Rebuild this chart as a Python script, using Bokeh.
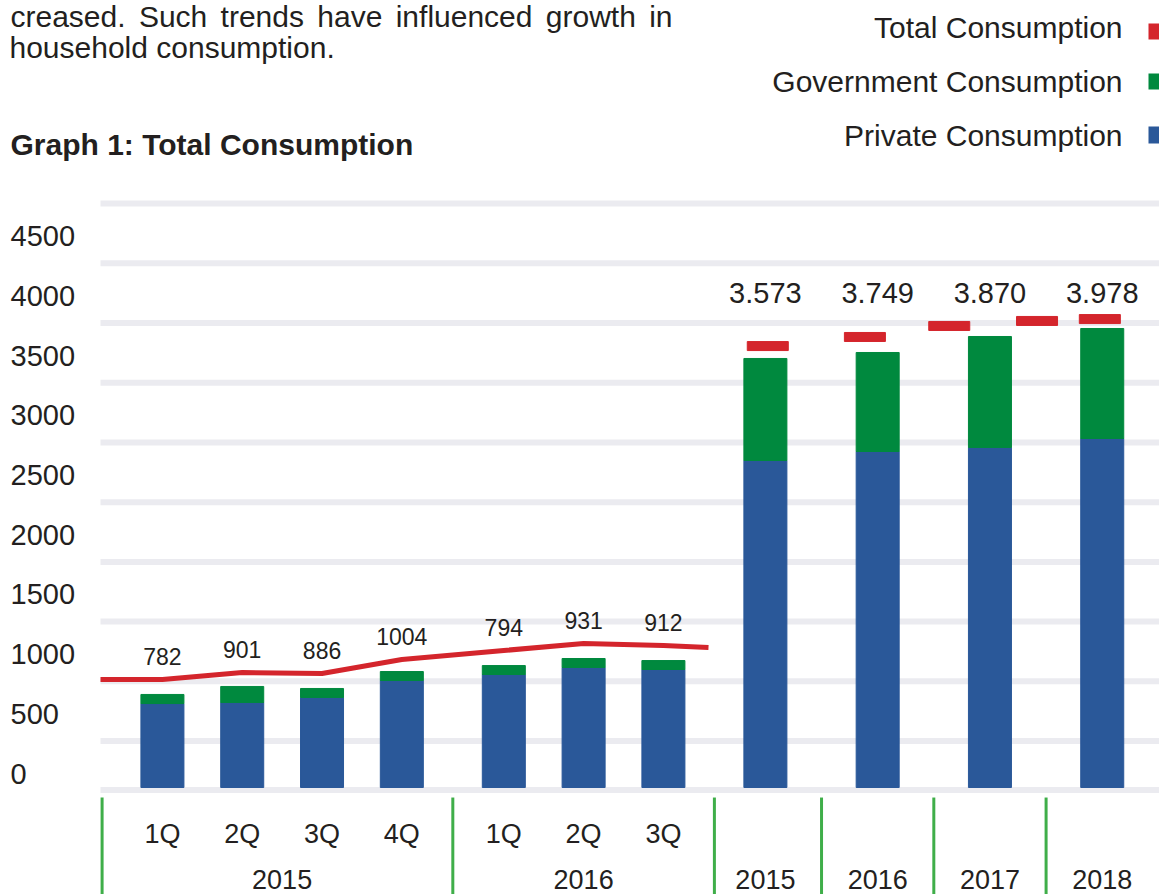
from bokeh.plotting import figure
from bokeh.models import Range1d, Label, Grid, BoxAnnotation
from bokeh.core.properties import value
from bokeh.embed import file_html
from bokeh.resources import INLINE

# ---------------- data ----------------
quarter_groups = ["2015", "2016"]
quarter_names = [["1Q", "2Q", "3Q", "4Q"], ["1Q", "2Q", "3Q"]]
years = ["2015", "2016", "2017", "2018"]

private_q = [703, 712, 754, 896, 946, 1005, 988]
government_q = [76, 134, 75, 75, 75, 75, 75]
total_q = [904, 963, 954, 1072, 1147, 1206, 1189]      # red line at each quarter
total_q_edges = [904, 1172]                            # red line at its two ends
total_q_labels = ["782", "901", "886", "1004", "794", "931", "912"]

private_a = [2738, 2813, 2847, 2922]
government_a = [854, 829, 929, 921]
total_a_labels = ["3.573", "3.749", "3.870", "3.978"]
total_a_marks = [3696, 3772, 3864, 3906, 3922]
total_a_mark_year = [0, 1, 2, 2, 3]
total_a_mark_shift = [0.03, -0.16, -0.51, 0.59, -0.03]

y_tick_values = [0, 500, 1000, 1500, 2000, 2500, 3000, 3500, 4000, 4500]
legend_names = ["Total Consumption", "Government Consumption", "Private Consumption"]

para_line1 = "creased. Such trends have influenced growth in"
para_line2 = "household consumption."
title_text = "Graph 1: Total Consumption"

# ---------------- style / layout ----------------
BLUE = "#2a5899"
GREEN = "#00893e"
RED = "#d4252c"
SEP_GREEN = "#3fae49"
GRID = "#ebebf0"
INK = "#231f20"
FONT_NAME = "Liberation Sans"
FONT = value(FONT_NAME)

W, H = 1159, 894
PX_X = 79.8          # pixels per x unit
PX_Y = 0.11944       # pixels per y unit
Q_STEP, GROUP_GAP, YEAR_STEP = 1.0, 1.278, 1.407
BAR_W, MARK_W = 0.539, 0.514
PLOT_LEFT = -0.776                  # where the plotting area begins
X_START = PLOT_LEFT - 100 / PX_X
X_END = X_START + W / PX_X
Y_START = -(H - 787) / PX_Y
Y_END = Y_START + H / PX_Y
LABEL_SHIFT = 116
grid_ticks = [-21] + [389 + 500 * k for k in range(10)]

# justified first paragraph line (Liberation Sans advance widths, em units)
ADV = {"a": .556, "c": .5, "d": .556, "e": .556, "f": .278, "g": .556, "h": .556,
       "i": .222, "l": .222, "n": .556, "o": .556, "r": .333, "s": .5, "t": .278,
       "u": .556, "v": .5, "w": .722, "S": .667, ".": .278}
PARA_PX = 30
JUST_LEFT, JUST_RIGHT = 10, 672
words = para_line1.split(" ")
wwidth = [sum(ADV[ch] for ch in w) * PARA_PX for w in words]
gap = (JUST_RIGHT - JUST_LEFT - sum(wwidth)) / (len(words) - 1)
word_x, pos = [], JUST_LEFT
for ww in wwidth:
    word_x.append(pos)
    pos += ww + gap

# category positions from the group structure
xq, qgroup_x, sep_x = [], [], [PLOT_LEFT + 0.02]
cur = None
for names in quarter_names:
    first = None
    for k, _ in enumerate(names):
        if cur is None:
            cur = 0.0
        elif k == 0:
            sep_x.append(cur + GROUP_GAP / 2)
            cur += GROUP_GAP
        else:
            cur += Q_STEP
        if first is None:
            first = cur
        xq.append(cur)
    qgroup_x.append((first + cur) / 2)
xa = []
for i, _ in enumerate(years):
    g = GROUP_GAP if i == 0 else YEAR_STEP
    sep_x.append(cur + g / 2)
    cur += g
    xa.append(cur)

p = figure(width=W, height=H,
           x_range=Range1d(X_START, X_END), y_range=Range1d(Y_START, Y_END),
           x_axis_location=None, y_axis_location=None,
           toolbar_location=None, output_backend="svg",
           min_border=0, outline_line_color=None)
p.center = [c for c in p.center if not isinstance(c, Grid)]
p.extra_y_ranges = {"ticklabels": Range1d(Y_START - LABEL_SHIFT, Y_END - LABEL_SHIFT)}

# horizontal grid bands
p.segment(x0=[PLOT_LEFT] * len(grid_ticks), y0=grid_ticks,
          x1=[X_END] * len(grid_ticks), y1=grid_ticks,
          line_color=GRID, line_width=6)

# stacked bars
tot_pq = [a + b for a, b in zip(private_q, government_q)]
tot_pa = [a + b for a, b in zip(private_a, government_a)]
p.vbar(x=xq, top=private_q, width=BAR_W, color=BLUE)
p.vbar(x=xq, bottom=private_q, top=tot_pq, width=BAR_W, color=GREEN)
p.vbar(x=xa, top=private_a, width=BAR_W, color=BLUE)
p.vbar(x=xa, bottom=private_a, top=tot_pa, width=BAR_W, color=GREEN)

# total line (quarters)
line_x = [PLOT_LEFT] + xq + [xq[-1] + 0.565]
line_y = [total_q_edges[0]] + total_q + [total_q_edges[1]]
p.line(line_x, line_y, color=RED, line_width=5, line_join="round")

# total marks (years)
mark_x = [xa[i] + s for i, s in zip(total_a_mark_year, total_a_mark_shift)]
p.rect(x=mark_x, y=total_a_marks, width=MARK_W, height=9, height_units="screen",
       color=RED)

# value labels
p.text(x=xq, y=total_q, text=total_q_labels, y_offset=-23,
       text_align="center", text_baseline="middle",
       text_font=FONT, text_font_size="23px", text_color=INK)
p.text(x=xa, y=[4136] * len(xa), text=total_a_labels,
       text_align="center", text_baseline="middle",
       text_font=FONT, text_font_size="29px", text_color=INK)

# category axis
flat_q = [n for names in quarter_names for n in names]
p.text(x=xq, y=[0] * len(xq), text=flat_q, y_offset=46,
       text_align="center", text_baseline="middle",
       text_font=FONT, text_font_size="27px", text_color=INK)
p.text(x=qgroup_x + xa, y=[0] * (len(qgroup_x) + len(xa)), text=quarter_groups + years,
       y_offset=92, text_align="center", text_baseline="middle",
       text_font=FONT, text_font_size="27px", text_color=INK)
p.segment(x0=sep_x, y0=[-84] * len(sep_x), x1=sep_x, y1=[Y_START] * len(sep_x),
          line_color=SEP_GREEN, line_width=3)

# y tick labels
for v in y_tick_values:
    p.add_layout(Label(x=10, x_units="screen", y=v, y_units="data",
                       y_range_name="ticklabels", text=str(v),
                       text_align="left", text_baseline="middle",
                       text_font=FONT_NAME, text_font_size="29px", text_color=INK))

# paragraph (first line justified) + title
for word, wx in zip(words, word_x):
    p.add_layout(Label(x=wx, y=H - 16, x_units="screen", y_units="screen", text=word,
                       text_align="left", text_baseline="middle",
                       text_font=FONT_NAME, text_font_size=f"{PARA_PX}px", text_color=INK))
p.add_layout(Label(x=9, y=H - 47, x_units="screen", y_units="screen", text=para_line2,
                   text_align="left", text_baseline="middle",
                   text_font=FONT_NAME, text_font_size=f"{PARA_PX}px", text_color=INK))
p.add_layout(Label(x=10, y=H - 144, x_units="screen", y_units="screen", text=title_text,
                   text_align="left", text_baseline="middle",
                   text_font=FONT_NAME, text_font_size="30px", text_font_style="bold",
                   text_color=INK))

# legend
for name, col, ty, (b, t) in zip(legend_names, [RED, GREEN, BLUE],
                                 [27, 81, 135], [(23, 39), (73, 89), (126, 143)]):
    p.add_layout(Label(x=1122, y=H - ty, x_units="screen", y_units="screen", text=name,
                       text_align="right", text_baseline="middle",
                       text_font=FONT_NAME, text_font_size="30px", text_color=INK))
    p.add_layout(BoxAnnotation(left=1148, right=1159, bottom=H - t, top=H - b,
                               left_units="screen", right_units="screen",
                               bottom_units="screen", top_units="screen",
                               fill_color=col, fill_alpha=1.0, line_color=None))

open("out.html", "w").write(file_html(p, INLINE))
